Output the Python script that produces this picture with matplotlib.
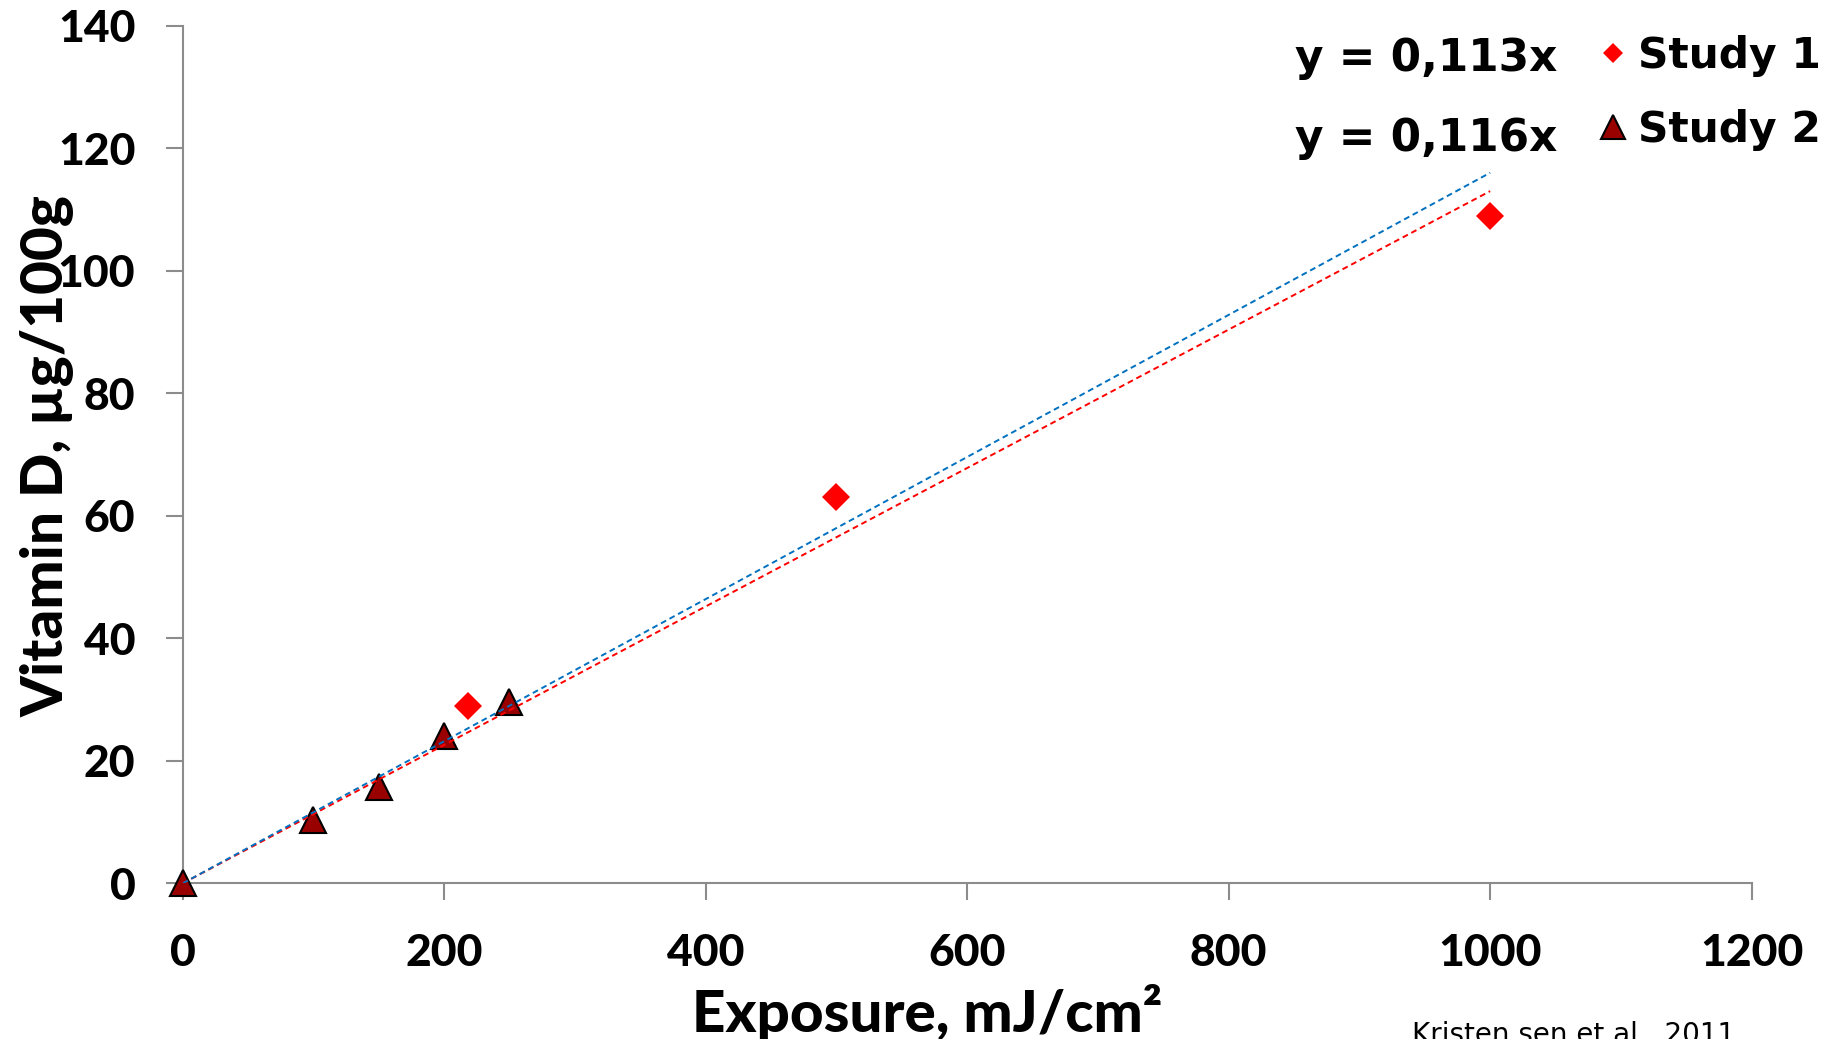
import matplotlib
matplotlib.use("Agg")
import matplotlib.pyplot as plt
from matplotlib.lines import Line2D
import numpy as np

# ---- data ----
study1_x = [218, 500, 1000]
study1_y = [29, 63, 109]
study2_x = [0, 100, 150, 200, 250]
study2_y = [0, 10.4, 15.8, 24.0, 29.6]
trend_slopes = [0.113, 0.116]          # Study 1, Study 2 (through origin)
trend_range = [0, 1000]
equations = ["y = 0,113x", "y = 0,116x"]
series_names = ["Study 1", "Study 2"]
x_ticks = [0, 200, 400, 600, 800, 1000, 1200]
y_ticks = [0, 20, 40, 60, 80, 100, 120, 140]
x_title = "Exposure, mJ/cm²"
y_title = "Vitamin D, µg/100g"
citation = "Kristen sen et al., 2011."

W, H = 1835, 1039
fig = plt.figure(figsize=(W / 100, H / 100), dpi=100)
ax = fig.add_axes([182.6 / W, 1 - 883.4 / H, (1751.7 - 182.6) / W, (883.4 - 25.7) / H])

red = "#FF0000"
dark_red = "#990000"
blue = "#0070C0"
axis_gray = "#8C8C8C"

ax.plot(study1_x, study1_y, linestyle="none", marker="D", markersize=14,
        color=red, markeredgewidth=0, zorder=3, clip_on=False)
ax.plot(study2_x, study2_y, linestyle="none", marker="^", markersize=19,
        markerfacecolor=dark_red, markeredgecolor="black", markeredgewidth=1.5,
        zorder=3, clip_on=False)

xs = np.array(trend_range, dtype=float)
ax.plot(xs, trend_slopes[0] * xs, color=red, lw=1.4, linestyle=(0, (3, 2)), zorder=4)
ax.plot(xs, trend_slopes[1] * xs, color=blue, lw=1.4, linestyle=(0, (3, 2)), zorder=5)

ax.set_xlim(0, 1200)
ax.set_ylim(0, 140)
ax.set_xticks(x_ticks)
ax.set_yticks(y_ticks)
ax.set_xticklabels([str(v) for v in x_ticks])
ax.set_yticklabels([str(v) for v in y_ticks])

for s in ["top", "right"]:
    ax.spines[s].set_visible(False)
for s in ["left", "bottom"]:
    ax.spines[s].set_color(axis_gray)
    ax.spines[s].set_linewidth(1.5)

ax.tick_params(axis="both", direction="out", length=12, width=1.5, color=axis_gray)
ax.tick_params(axis="x", pad=24)
ax.tick_params(axis="y", pad=22)
for lab in ax.get_xticklabels() + ax.get_yticklabels():
    lab.set_fontfamily("Lato")
    lab.set_fontweight(900)
    lab.set_fontsize(32)

# axis titles
fig.text(927 / W, 1 - 1032 / H, x_title, ha="center", va="baseline",
         family="Lato", weight=900, size=42)
fig.text(64 / W, 1 - 456 / H, y_title, ha="center", va="baseline",
         rotation=90, rotation_mode="anchor",
         family="Lato", weight=900, size=42)

# trendline equations
fig.text(1295 / W, 1 - 58 / H, equations[0], ha="left", va="center",
         family="DejaVu Sans", weight="bold", size=31.5)
fig.text(1295 / W, 1 - 138 / H, equations[1], ha="left", va="center",
         family="DejaVu Sans", weight="bold", size=31.5)

# legend
handles = [
    Line2D([], [], linestyle="none", marker="D", markersize=10, color=red, markeredgewidth=0),
    Line2D([], [], linestyle="none", marker="^", markersize=17, markerfacecolor=dark_red,
           markeredgecolor="black", markeredgewidth=1.5),
]
leg = fig.legend(handles, series_names, loc="upper left",
                 bbox_to_anchor=(1600 / W, 1 - 35 / H), frameon=False,
                 prop=dict(family="DejaVu Sans", weight="bold", size=30.5),
                 handlelength=0.6, handletextpad=0.3, labelspacing=0.75,
                 borderpad=0, borderaxespad=0)

# citation (partly cut off at the bottom edge)
fig.text(1412 / W, 1 - 1043 / H, citation, ha="left", va="baseline",
         family="DejaVu Sans", size=20)

fig.savefig("out.png", dpi=100)
